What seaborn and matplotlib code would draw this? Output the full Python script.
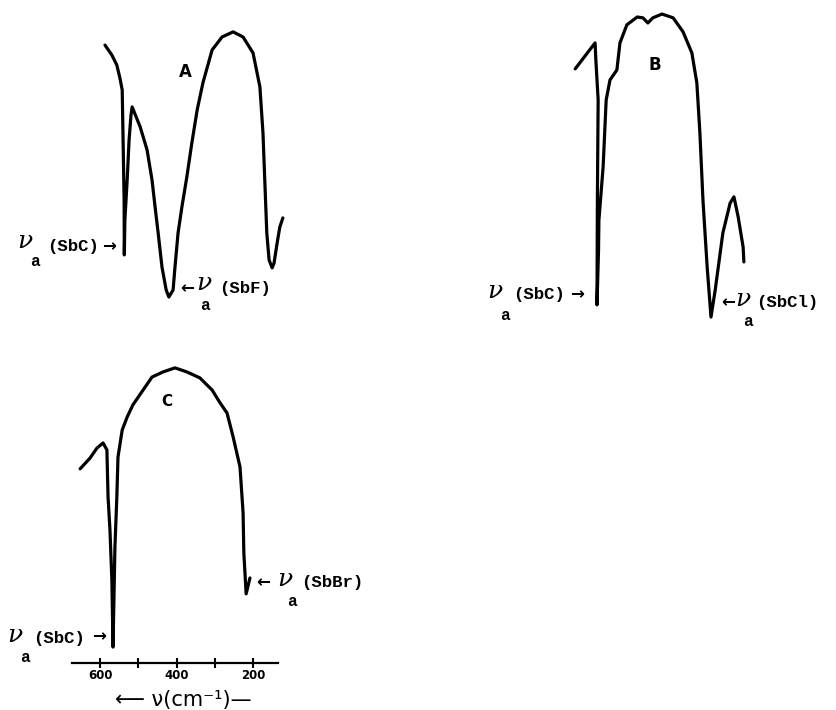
import matplotlib
matplotlib.use("Agg")
import matplotlib.pyplot as plt
import numpy as np
import pandas as pd
import seaborn as sns

# ---------------- data ----------------
# Spectrum A: fluoride complex
wavenumber_A = [587, 569, 556, 548, 542, 540, 537, 536.5, 535, 529, 524, 519, 516,
                495, 477, 464, 456, 448, 438, 427, 420, 409, 404, 396, 386, 373,
                360, 346, 331, 307, 281, 252, 226, 200, 182, 174, 169, 164, 158,
                150, 145, 137, 130, 122]
transmittance_A = [94.4, 90.7, 87.0, 82.2, 77.8, 61.9, 37.0, 16.7, 29.6, 44.4, 59.3, 68.5, 71.5,
                   64.1, 55.6, 44.4, 34.4, 24.8, 12.2, 3.7, 1.1, 3.7, 12.2, 24.8, 34.4, 45.6,
                   58.1, 70.4, 80.4, 92.6, 97.4, 99.3, 97.4, 91.5, 78.9, 61.9, 43.3, 24.8, 14.8,
                   11.9, 13.7, 21.1, 27.0, 30.4]

# Spectrum B: chloride complex
wavenumber_B = [622, 588, 570, 568, 562, 564, 565, 561, 560, 549, 541, 531, 513, 505,
                487, 460, 445, 432, 419, 395, 366, 340, 317, 304, 296, 288, 277, 267,
                256, 236, 217, 207, 196, 183, 181]
transmittance_B = [96.7, 103.0, 106.3, 100.0, 85.2, 48.1, 9.3, 29.6, 40.7, 60.4, 85.2, 92.6, 96.3, 106.3,
                   113.0, 115.9, 115.6, 113.7, 115.6, 117.0, 115.6, 110.4, 102.6, 91.5, 73.0, 48.1, 23.3, 4.8,
                   14.8, 35.9, 47.0, 49.3, 41.9, 30.7, 25.2]

# Spectrum C: bromide complex
wavenumber_C = [652, 626, 608, 592, 582, 579, 574, 569, 566, 561, 556, 553, 542, 529, 514,
                482, 464, 435, 404, 373, 339, 307, 286, 268, 252, 234, 226, 224, 218, 208]
transmittance_C = [71.9, 75.9, 79.6, 81.5, 78.9, 61.5, 49.3, 30.7, 5.9, 43.0, 61.5, 76.3, 86.3, 91.1, 95.6,
                   102.2, 105.9, 107.8, 109.3, 107.8, 105.6, 101.1, 96.3, 92.6, 83.7, 72.6, 55.6, 40.7, 25.6, 31.5]

tick_values = [600, 500, 400, 300, 200]
tick_labels = ["600", "", "400", "", "200"]
panel_names = ["A", "B", "C"]

# ---------------- figure ----------------
sns.set_theme(style="white")
plt.rcParams["font.family"] = ["DejaVu Sans"]
plt.rcParams["text.color"] = "black"
plt.rcParams["xtick.color"] = "black"
plt.rcParams["xtick.labelcolor"] = "black"
W, H = 836, 710
fig = plt.figure(figsize=(W / 100, H / 100), dpi=100)
fig.patch.set_facecolor("white")


def rect(x0, y0, x1, y1):
    return [x0 / W, 1 - y1 / H, (x1 - x0) / W, (y1 - y0) / H]


def ftext(px, py, s, **kw):
    kw.setdefault("va", "center")
    kw.setdefault("ha", "left")
    kw.setdefault("color", "black")
    fig.text(px / W, 1 - py / H, s, **kw)


axA = fig.add_axes(rect(60, 0, 300, 300))
axB = fig.add_axes(rect(540, 0, 780, 330))
axC = fig.add_axes(rect(60, 363, 300, 663))

specs = [
    (axA, wavenumber_A, transmittance_A, (704.6, 77.2), (0, 111.1)),
    (axB, wavenumber_B, transmittance_B, (714.0, 86.6), (0, 122.2)),
    (axC, wavenumber_C, transmittance_C, (704.6, 77.2), (0, 111.1)),
]
for ax, wn, tr, xl, yl in specs:
    df = pd.DataFrame({"wavenumber": wn, "T": tr})
    sns.lineplot(data=df, x="wavenumber", y="T", sort=False, estimator=None,
                 color="black", linewidth=2.3, ax=ax,
                 solid_joinstyle="round", solid_capstyle="round")
    ax.set_xlim(*xl)
    ax.set_ylim(*yl)
    ax.set_facecolor("none")
    ax.set_xlabel("")
    ax.set_ylabel("")
    ax.set_yticks([])
    for s in ["left", "right", "top"]:
        ax.spines[s].set_visible(False)

for ax in (axA, axB):
    ax.spines["bottom"].set_visible(False)
    ax.set_xticks([])

# axis for C
axC.spines["bottom"].set_visible(True)
axC.spines["bottom"].set_bounds(134, 673)
axC.spines["bottom"].set_color("black")
axC.spines["bottom"].set_linewidth(1.6)
axC.set_xticks(tick_values)
axC.set_xticklabels(tick_labels, fontsize=8.5, fontweight="bold", color="black")
axC.tick_params(axis="x", direction="inout", length=7, width=1.5, pad=1,
                colors="black", bottom=True)

# ---------------- annotations ----------------
mono = ["Liberation Mono", "DejaVu Sans Mono"]
nu_kw = dict(fontsize=18, style="italic", family=["DejaVu Serif"])
sub_kw = dict(fontsize=11.5, family=mono, fontweight="bold", ha="center")
lab_kw = dict(fontsize=12.5, family=mono, fontweight="bold")
arr_kw = dict(fontsize=12, fontweight="bold", family=["DejaVu Sans"])

# panel letters
ftext(185, 72, panel_names[0], fontsize=12, fontweight="bold", ha="center")
ftext(655, 65, panel_names[1], fontsize=12, fontweight="bold", ha="center")
ftext(167, 402, panel_names[2], fontsize=11, fontweight="bold", ha="center")

# A
ftext(25, 242, "ν", ha="center", **nu_kw)
ftext(35, 262, "a", **sub_kw)
ftext(47, 246, "(SbC)", **lab_kw)
ftext(102, 246, "→", **arr_kw)
ftext(180, 288, "←", **arr_kw)
ftext(204, 284, "ν", ha="center", **nu_kw)
ftext(205, 305, "a", **sub_kw)
ftext(219, 288, "(SbF)", **lab_kw)

# B
ftext(495, 291, "ν", ha="center", **nu_kw)
ftext(505, 315, "a", **sub_kw)
ftext(513, 295, "(SbC)", **lab_kw)
ftext(570, 294, "→", **arr_kw)
ftext(721, 302, "←", **arr_kw)
ftext(743, 299, "ν", ha="center", **nu_kw)
ftext(748, 321, "a", **sub_kw)
ftext(756, 303, "(SbCl)", **lab_kw)

# C
ftext(15, 636, "ν", ha="center", **nu_kw)
ftext(25, 658, "a", **sub_kw)
ftext(33, 638, "(SbC)", **lab_kw)
ftext(92, 636, "→", **arr_kw)
ftext(256, 582, "←", **arr_kw)
ftext(285, 580, "ν", ha="center", **nu_kw)
ftext(292, 601, "a", **sub_kw)
ftext(301, 583, "(SbBr)", **lab_kw)

# axis title
ftext(183, 700, "⟵ ν(cm⁻¹)—", fontsize=15, ha="center")

fig.savefig("out.png", dpi=100, facecolor="white")
